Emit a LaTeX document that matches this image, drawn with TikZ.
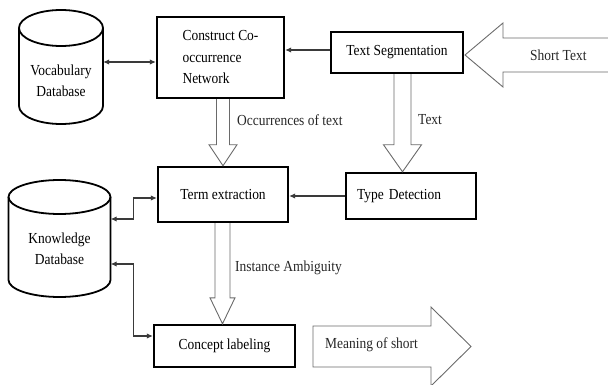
\documentclass[tikz,border=0pt]{standalone}
\usepackage{fontspec}
\setmainfont[FakeStretch=0.88]{Liberation Serif}
\usepackage{tikz}
\usetikzlibrary{arrows.meta}
\usetikzlibrary{calc}

\definecolor{linkgray}{HTML}{3A3A3A}
\definecolor{hollowgray}{HTML}{6A6A6A}

\tikzset{
    stepbox/.style={draw=black, line width=2.4pt, fill=white, inner sep=0pt},
    drum/.style={draw=black, line width=1.8pt},
    link/.style={draw=linkgray, line width=1.1pt, {Latex[length=6pt,width=5.5pt]}-{Latex[length=6pt,width=5.5pt]}},
    linkto/.style={draw=linkgray, line width=1.1pt, -{Latex[length=6pt,width=5.5pt]}},
    hollow/.style={draw=hollowgray, line width=0.9pt},
    bigarrow/.style={draw=hollowgray, line width=0.9pt},
    tag/.style={anchor=west, inner sep=0pt, text=black!85}
}

% hollow arrow: start, tip, shaft half width, head half width, head length
\newcommand{\hollowarrow}[5]{%
    \draw[hollow] let \p1=#1, \p2=#2 in
        (\x2-#3pt,\y1) -- (\x2-#3pt,\y2+#5pt) -- (\x2-#4pt,\y2+#5pt) -- (\x2,\y2)
        -- (\x2+#4pt,\y2+#5pt) -- (\x2+#3pt,\y2+#5pt) -- (\x2+#3pt,\y1);
}

% database drum: centre x, top y, bottom y, x radius, y radius
\newcommand{\dbdrum}[5]{%
    \draw[drum] (#1-#4,#2) -- (#1-#4,#3) arc[start angle=180, end angle=0, x radius=#4, y radius=#5] -- (#1+#4,#2);
    \draw[drum] (#1,#2) ellipse[x radius=#4, y radius=#5];
}

\begin{document}
\begin{tikzpicture}[x=1pt, y=-1pt, font=\fontsize{15.3}{21.5}\selectfont]

    \useasboundingbox (0,0) rectangle (608,385);

    % Databases
    \dbdrum{61}{28}{106}{42}{18}
    \dbdrum{59.5}{197}{280}{51}{17}
    \node[align=center, minimum width=84pt, inner sep=0pt] (vocab) at (61,81) {Vocabulary\\Database};
    \node[align=center, minimum width=102pt, inner sep=0pt] (knowledge) at (59.5,249) {Knowledge\\Database};

    % Steps
    \node[stepbox, minimum width=127pt, minimum height=81pt, align=left] (construct) at (220.5,57.5) {Construct Co-\\occurrence\\Network};
    \node[stepbox, minimum width=132pt, minimum height=41pt] (textseg) at (397,52.5) {Text Segmentation};
    \node[stepbox, minimum width=130pt, minimum height=55pt] (term) at (223,194.5) {Term extraction};
    \node[stepbox, minimum width=130pt, minimum height=46pt, text width=108pt, align=left] (typedet) at (411,196) {Type Detection};
    \node[stepbox, minimum width=141pt, minimum height=42pt] (concept) at (224.5,346) {Concept labeling};

    % Thin connectors
    \draw[link] ([yshift=-4.5pt]construct.west) -- ([yshift=-4.5pt]construct.west -| vocab.east);
    \draw[linkto] ([yshift=2.5pt]textseg.west) -- ([yshift=2.5pt]textseg.west -| construct.east);
    \draw[linkto] (typedet.west) -- (typedet.west -| term.east);
    \draw[link] ([yshift=30pt]knowledge.east) -- ++(23,0) |- ([yshift=-3.5pt]term.west);
    \draw[link] ([yshift=-15pt]knowledge.east) -- ++(23,0) |- ([yshift=10pt]concept.west);

    % Hollow arrows
    \hollowarrow{(term.north |- construct.south)}{(term.north)}{6.5}{14}{21}
    \hollowarrow{([xshift=-8.5pt]typedet.north |- textseg.south)}{([xshift=-8.5pt]typedet.north)}{8.5}{19}{27}
    \hollowarrow{([xshift=-2pt]concept.north |- term.south)}{([xshift=-2pt]concept.north)}{7.5}{12.5}{26}

    \node[tag] (occlabel) at (237,120) {Occurrences of text};
    \node[tag] (textlabel) at (418,120) {Text};
    \node[tag] (amblabel) at (235,268) {Instance Ambiguity};

    % Input and output
    \draw[bigarrow] (625,38) -- (503,38) -- (503,23) -- (465,55) -- (503,87) -- (503,72) -- (625,72);
    \node[tag] (shorttext) at (530,55) {Short Text};
    \draw[bigarrow] (313,326) -- (431,326) -- (431,307) -- (471,346.5) -- (431,386) -- (431,367) -- (313,367) -- cycle;
    \node[tag] (meaning) at (325,345) {Meaning of short};

\end{tikzpicture}
\end{document}
